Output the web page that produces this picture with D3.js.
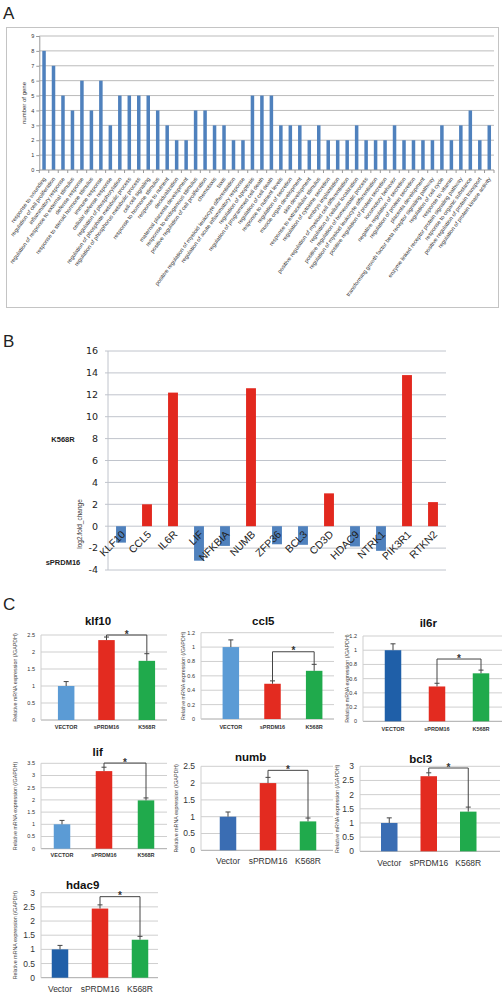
<!DOCTYPE html>
<html><head><meta charset="utf-8">
<script src="https://cdn.jsdelivr.net/npm/d3@7/dist/d3.min.js"></script>
<style>
body{margin:0;background:#fff;}
svg{display:block;font-family:"Liberation Sans",Arial,sans-serif;}
</style>
</head><body>
<svg id="c" width="504" height="992"></svg>
<script>
// ---------- Panel A data ----------
const goTerms = [
 "response to wounding","regulation of cell proliferation","inflammatory response",
 "regulation of response to external stimulus","defense response","response to steroid hormone stimulus",
 "immune response","cellular defense response","regulation of phosphorylation",
 "regulation of phosphate metabolic process","regulation of phosphorus metabolic process","cell-cell signaling",
 "response to hormone stimulus","response to nutrient","decidualization",
 "maternal placenta development","response to endogenous stimulus","positive regulation of cell proliferation",
 "chemotaxis","taxis","positive regulation of myeloid leukocyte differentiation",
 "regulation of acute inflammatory response","regulation of apoptosis","regulation of programmed cell death",
 "regulation of cell death","response to nutrient levels","regulation of secretion",
 "muscle organ development","skin development","response to extracellular stimulus",
 "regulation of cytokine secretion","embryo implantation","positive regulation of myeloid cell differentiation",
 "regulation of cellular localization","positive regulation of homeostatic process","regulation of myeloid leukocyte differentiation",
 "positive regulation of protein secretion","locomotory behavior","negative regulation of secretion",
 "regulation of protein secretion","placenta development","transforming growth factor beta receptor signaling pathway",
 "regulation of cell cycle","response to vitamin","enzyme linked receptor protein signaling pathway",
 "response to organic substance","positive regulation of protein transport","regulation of protein kinase activity"
];
const geneCounts = [8,7,5,4,6,4,6,3,5,5,5,5,4,3,2,2,4,4,3,3,2,2,5,5,5,3,3,3,2,3,2,2,2,3,2,2,2,3,2,2,2,2,3,2,3,4,2,3];
const countTicks = [0,1,2,3,4,5,6,7,8,9];

// ---------- Panel B data ----------
const bGenes = ["KLF10","CCL5","IL6R","LIF","NFKBIA","NUMB","ZFP36","BCL3","CD3D","HDAC9","NTRK1","PIK3R1","RTKN2"];
const bK568R   = [null,2.0,12.2,null,null,12.6,null,null,3.0,null,null,13.8,2.2];
const bSPRDM16 = [-1.5,null,null,-3.15,-1.8,null,-1.65,-1.7,null,-1.85,-2.25,null,null];
const bTicks = [-4,-2,0,2,4,6,8,10,12,14,16];

// ---------- Panel C data ----------
const cGenes = ["klf10","ccl5","il6r","lif","numb","bcl3","hdac9"];
const cGroupsUpper = ["VECTOR","sPRDM16","K568R"];
const cGroupsLower = ["Vector","sPRDM16","K568R"];
const cVector     = [1.0,1.0,1.0,1.0,1.0,1.0,1.0];
const cVectorErr  = [0.13,0.10,0.09,0.16,0.14,0.18,0.14];
const cSPRDM16    = [2.35,0.49,0.49,3.18,2.0,2.65,2.44];
const cSPRDM16Err = [0.09,0.04,0.045,0.16,0.17,0.12,0.13];
const cK568R      = [1.74,0.67,0.675,1.98,0.86,1.40,1.34];
const cK568RErr   = [0.21,0.09,0.045,0.10,0.10,0.16,0.12];
const cYMax  = [2.5,1.2,1.2,3.5,2.5,3,3];
const cYStep = [0.5,0.2,0.2,0.5,0.5,0.5,0.5];
const cBracket = [2.5,0.935,0.876,3.51,2.38,2.94,2.86];

const svg = d3.select("#c");

// Panel letters
[["A",19],["B",347],["C",610]].forEach(([t,y])=>{
  svg.append("text").attr("x",3).attr("y",y).attr("font-size",17).attr("fill","#222").text(t);
});

// ================= Panel A =================
(function(){
  const g = svg.append("g");
  g.append("rect").attr("x",6.5).attr("y",27.5).attr("width",492).attr("height",280)
    .attr("fill","#fff").attr("stroke","#c4c4c4");
  const x = d3.scaleBand().domain(goTerms).range([39.3,494]).paddingInner(0.63).paddingOuter(0.315);
  const y = d3.scaleLinear().domain([0,9]).range([170,36]);
  g.selectAll(".grid").data(countTicks.filter(d=>d>0)).enter().append("line")
    .attr("x1",39.3).attr("x2",494).attr("y1",d=>y(d)).attr("y2",d=>y(d))
    .attr("stroke","#a9a9a9").attr("stroke-width",0.8);
  g.selectAll(".bar").data(geneCounts).enter().append("rect")
    .attr("x",(d,i)=>x(goTerms[i])).attr("width",x.bandwidth())
    .attr("y",d=>y(d)).attr("height",d=>y(0)-y(d)).attr("fill","#4f81bd");
  const yAxis = g.append("g").attr("transform","translate(39.3,0)")
    .call(d3.axisLeft(y).tickValues(countTicks).tickSize(3).tickPadding(2).tickFormat(d3.format("d")));
  yAxis.select(".domain").attr("stroke","#999");
  yAxis.selectAll(".tick line").attr("stroke","#999");
  yAxis.selectAll("text").attr("font-size",5.5).attr("fill","#333");
  const step = x.step();
  g.append("line").attr("x1",39.3).attr("x2",494).attr("y1",170).attr("y2",170).attr("stroke","#999");
  g.selectAll(".xt").data(d3.range(goTerms.length+1)).enter().append("line")
    .attr("x1",i=>39.3+i*step).attr("x2",i=>39.3+i*step).attr("y1",170).attr("y2",173).attr("stroke","#999");
  g.selectAll(".lab").data(goTerms).enter().append("text")
    .attr("transform",d=>`translate(${x(d)+x.bandwidth()/2+2},179) rotate(-54)`)
    .attr("text-anchor","end").attr("font-size",5.6).attr("fill","#333").text(d=>d);
  g.append("text").attr("transform","translate(26,103) rotate(-90)").attr("text-anchor","middle")
    .attr("font-size",6).attr("fill","#333").text("number of gene");
})();

// ================= Panel B =================
(function(){
  const g = svg.append("g");
  const x = d3.scaleBand().domain(bGenes).range([108,446]).paddingInner(0.62).paddingOuter(0.31);
  const y = d3.scaleLinear().domain([-4,16]).range([570,351]);
  g.selectAll(".grid").data(bTicks).enter().append("line")
    .attr("x1",105).attr("x2",446).attr("y1",d=>y(d)).attr("y2",d=>y(d))
    .attr("stroke","#c0c4cc").attr("stroke-width",1);
  g.append("line").attr("x1",108).attr("x2",108).attr("y1",351).attr("y2",570).attr("stroke","#c0c4cc");
  const pos = bGenes.map((gname,i)=>({g:gname,v:bK568R[i]})).filter(d=>d.v!==null);
  const neg = bGenes.map((gname,i)=>({g:gname,v:bSPRDM16[i]})).filter(d=>d.v!==null);
  g.selectAll(".pos").data(pos).enter().append("rect")
    .attr("x",d=>x(d.g)).attr("width",x.bandwidth()).attr("y",d=>y(d.v)).attr("height",d=>y(0)-y(d.v))
    .attr("fill","#e2281e");
  g.selectAll(".neg").data(neg).enter().append("rect")
    .attr("x",d=>x(d.g)).attr("width",x.bandwidth()).attr("y",y(0)).attr("height",d=>y(d.v)-y(0))
    .attr("fill","#4f81bd");
  g.selectAll(".tl").data(bTicks).enter().append("text")
    .attr("x",98).attr("y",d=>y(d)).attr("dy","0.35em").attr("text-anchor","end")
    .attr("font-family","DejaVu Sans").attr("font-size",9.5).attr("fill","#222").text(d=>d);
  g.selectAll(".cl").data(bGenes).enter().append("text")
    .attr("transform",d=>`translate(${x(d)+x.bandwidth()/2+5},535) rotate(-45)`)
    .attr("text-anchor","end").attr("font-size",10.5).attr("fill","#222").text(d=>d);
  g.append("text").attr("x",63).attr("y",442).attr("text-anchor","middle").attr("font-weight","bold")
    .attr("font-size",7.5).attr("fill","#222").text("K568R");
  g.append("text").attr("x",63).attr("y",565).attr("text-anchor","middle").attr("font-weight","bold")
    .attr("font-size",7.5).attr("fill","#222").text("sPRDM16");
  g.append("text").attr("transform","translate(82,524) rotate(-90)").attr("text-anchor","middle")
    .attr("font-size",6.5).attr("fill","#333").text("log2.fold_change");
})();

// ================= Panel C =================
const cLayout = [
 {x0:41, x1:167, y0:720,   yT:635,   b0:46,   b1:167, tx:98,    ty:625,   ylx:15,  catY:729,   tfs:5.5, cfs:5.5, cbold:true,  lower:false, vec:"#5b9bd5"},
 {x0:201,x1:334, y0:719,   yT:632.7, b0:210,  b1:335, tx:263.3, ty:625,   ylx:183, catY:728.7, tfs:5.5, cfs:5.5, cbold:true,  lower:false, vec:"#5b9bd5"},
 {x0:363,x1:502, y0:721.3, yT:636,   b0:371,  b1:503, tx:428.3, ty:627,   ylx:347, catY:730.7, tfs:5.5, cfs:5.5, cbold:true,  lower:false, vec:"#1f5fa8"},
 {x0:41, x1:167, y0:848.7, yT:763.3, b0:41,   b1:167, tx:97.7,  ty:755.5, ylx:15,  catY:857.3, tfs:5.5, cfs:5.5, cbold:true,  lower:false, vec:"#5b9bd5"},
 {x0:201,x1:333, y0:850.3, yT:766.3, b0:208,  b1:328, tx:250.7, ty:760.5, ylx:176, catY:863.7, tfs:8.5, cfs:8.5, cbold:false, lower:true,  vec:"#3a6db3"},
 {x0:360,x1:500, y0:851.3, yT:766.3, b0:369.5,b1:488, tx:420.7, ty:763,   ylx:337, catY:866,   tfs:8.5, cfs:8.5, cbold:false, lower:true,  vec:"#3a6db3"},
 {x0:41, x1:158, y0:977.7, yT:892.7, b0:40,   b1:160, tx:82.7,  ty:889,   ylx:15,  catY:991.5, tfs:8.5, cfs:8.5, cbold:false, lower:true,  vec:"#1f5fa8"}
];
const grpColors = [null,"#e32b20","#20aa4c"];

cGenes.forEach((gene,k)=>{
  const L = cLayout[k];
  const g = svg.append("g");
  const groups = L.lower ? cGroupsLower : cGroupsUpper;
  const vals = [cVector[k],cSPRDM16[k],cK568R[k]];
  const errs = [cVectorErr[k],cSPRDM16Err[k],cK568RErr[k]];
  const x = d3.scaleBand().domain(groups).range([L.b0,L.b1]);
  const y = d3.scaleLinear().domain([0,cYMax[k]]).range([L.y0,L.yT]);
  const ticks = d3.range(0,cYMax[k]+cYStep[k]/2,cYStep[k]);
  const bw = 16.5;
  const cx = gname => x(gname)+x.bandwidth()/2;
  g.selectAll(".grid").data(ticks).enter().append("line")
    .attr("x1",L.x0).attr("x2",L.x1).attr("y1",d=>y(d)).attr("y2",d=>y(d))
    .attr("stroke",(d,i)=>i===0?"#a8a8a8":"#cfcfcf").attr("stroke-width",1);
  g.append("line").attr("x1",L.x0).attr("x2",L.x0).attr("y1",L.yT).attr("y2",L.y0).attr("stroke","#cfcfcf");
  g.selectAll(".tl").data(ticks).enter().append("text")
    .attr("x",L.x0-6).attr("y",d=>y(d)).attr("dy","0.35em").attr("text-anchor","end")
    .attr("font-size",L.tfs).attr("fill","#333").text(d=>String(+d.toFixed(1)));
  g.selectAll(".bar").data(vals).enter().append("rect")
    .attr("x",(d,i)=>cx(groups[i])-bw/2).attr("width",bw)
    .attr("y",d=>y(d)).attr("height",d=>y(0)-y(d))
    .attr("fill",(d,i)=>i===0?L.vec:grpColors[i]);
  vals.forEach((v,i)=>{
    const xc = cx(groups[i]);
    g.append("line").attr("x1",xc).attr("x2",xc).attr("y1",y(v)).attr("y2",y(v+errs[i])).attr("stroke","#444");
    g.append("line").attr("x1",xc-2.5).attr("x2",xc+2.5).attr("y1",y(v+errs[i])).attr("y2",y(v+errs[i])).attr("stroke","#444");
  });
  const xl = cx(groups[1]), xr = cx(groups[2]), yb = y(cBracket[k]);
  g.append("path")
    .attr("d",`M${xl},${y(vals[1]+errs[1])}V${yb}H${xr}V${y(vals[2]+errs[2])}`)
    .attr("fill","none").attr("stroke","#444").attr("stroke-width",1);
  g.append("text").attr("x",(xl+xr)/2).attr("y",yb+2.5).attr("text-anchor","middle")
    .attr("font-size",10).attr("font-weight","bold").attr("fill","#333").text("*");
  g.selectAll(".cl").data(groups).enter().append("text")
    .attr("x",d=>cx(d)).attr("y",L.catY).attr("text-anchor","middle")
    .attr("font-size",L.cfs).attr("font-weight",L.cbold?"bold":"normal").attr("fill","#333").text(d=>d);
  g.append("text").attr("x",L.tx).attr("y",L.ty).attr("text-anchor","middle")
    .attr("font-size",11.5).attr("font-weight","bold").attr("fill","#111").text(gene);
  g.append("text").attr("transform",`translate(${L.ylx},${(L.y0+L.yT)/2}) rotate(-90)`)
    .attr("text-anchor","middle").attr("dy","0.35em").attr("font-size",5.3).attr("fill","#444")
    .text("Relative mRNA expression (/GAPDH)");
});
</script>
</body></html>
